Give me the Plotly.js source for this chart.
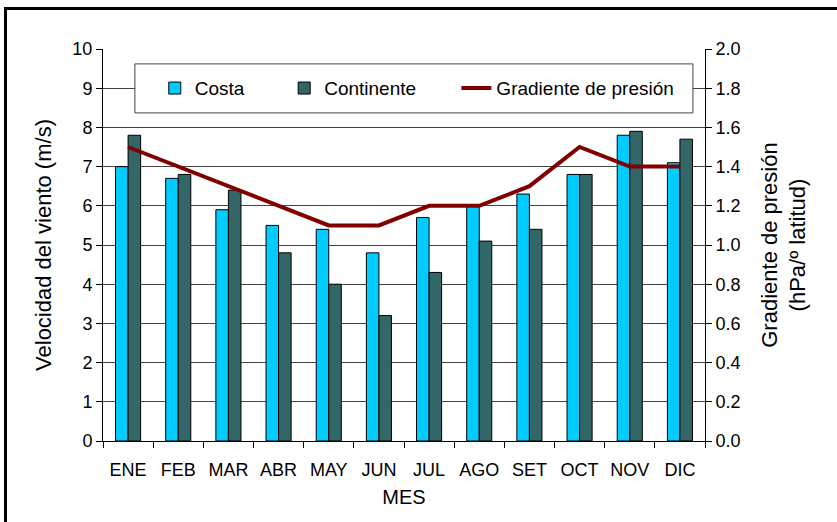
<!DOCTYPE html>
<html>
<head>
<meta charset="utf-8">
<script src="https://cdn.plot.ly/plotly-3.0.1.min.js"></script>
<style>
html,body{margin:0;padding:0;overflow:hidden;background:#fff;}
#chart{position:absolute;left:0;top:0;width:837px;height:522px;}
#frame{position:absolute;left:4px;top:7px;width:900px;height:600px;border-left:3px solid #000;border-top:3px solid #000;pointer-events:none;}
</style>
</head>
<body>
<div id="chart"></div>
<div id="frame"></div>
<script>
const months = ["ENE","FEB","MAR","ABR","MAY","JUN","JUL","AGO","SET","OCT","NOV","DIC"];
const costa = [7.0, 6.7, 5.9, 5.5, 5.4, 4.8, 5.7, 6.0, 6.3, 6.8, 7.8, 7.1];
const continente = [7.8, 6.8, 6.4, 4.8, 4.0, 3.2, 4.3, 5.1, 5.4, 6.8, 7.9, 7.7];
const gradiente = [1.5, 1.4, 1.3, 1.2, 1.1, 1.1, 1.2, 1.2, 1.3, 1.5, 1.4, 1.4];

const font = "Liberation Sans, Arial, sans-serif";

const traces = [
  {type:"bar", name:"Costa", x:months, y:costa, legend:"legend",
   marker:{color:"#00CCFF", line:{color:"#000", width:1}}},
  {type:"bar", name:"Continente", x:months, y:continente, legend:"legend2",
   marker:{color:"#336666", line:{color:"#000", width:1}}},
  {type:"scatter", mode:"lines", name:"Gradiente de presión", x:months, y:gradiente,
   yaxis:"y2", legend:"legend3", line:{color:"#800000", width:4}}
];

function leg(x){
  return {orientation:"h", x:x, y:0.9, yanchor:"middle", xanchor:"left",
          bgcolor:"rgba(0,0,0,0)", borderwidth:0, font:{size:19}};
}

const layout = {
  width:837, height:522,
  margin:{l:103, r:132, t:49, b:81},
  paper_bgcolor:"#fff", plot_bgcolor:"#fff",
  font:{family:font, size:18, color:"#000"},
  barmode:"group", bargap:0.5, bargroupgap:0,
  showlegend:true,
  legend:leg(0.086),
  legend2:leg(0.301),
  legend3:leg(0.587),
  xaxis:{type:"category", showline:true, linecolor:"#000", linewidth:1,
         ticks:"outside", ticklen:6, tickcolor:"#000", tickson:"boundaries",
         showgrid:false, tickfont:{size:18}, ticklabelstandoff:12,
         title:{text:"MES", font:{size:20}, standoff:11}},
  yaxis:{range:[0,10], dtick:1, showline:true, linecolor:"#000", linewidth:1,
         ticks:"outside", ticklen:6, tickcolor:"#000",
         showgrid:true, gridcolor:"#444", gridwidth:1, zeroline:false,
         tickfont:{size:18},
         title:{text:"Velocidad del viento (m/s)", font:{size:22}, standoff:14}},
  yaxis2:{range:[0,2], dtick:0.2, tickformat:".1f", overlaying:"y", side:"right",
          showline:true, linecolor:"#000", linewidth:1,
          ticks:"outside", ticklen:6, tickcolor:"#000", showgrid:false, zeroline:false,
          tickfont:{size:18},
          title:{text:"Gradiente de presión<br>(hPa/º latitud)", font:{size:22}, standoff:21}},
  shapes:[
    {type:"rect", xref:"paper", yref:"paper", x0:0.053, x1:0.98, y0:0.837, y1:0.962,
     fillcolor:"#fff", line:{color:"#444", width:1}, layer:"above"}
  ]
};

Plotly.newPlot("chart", traces, layout, {displayModeBar:false, staticPlot:true});
</script>
</body>
</html>
